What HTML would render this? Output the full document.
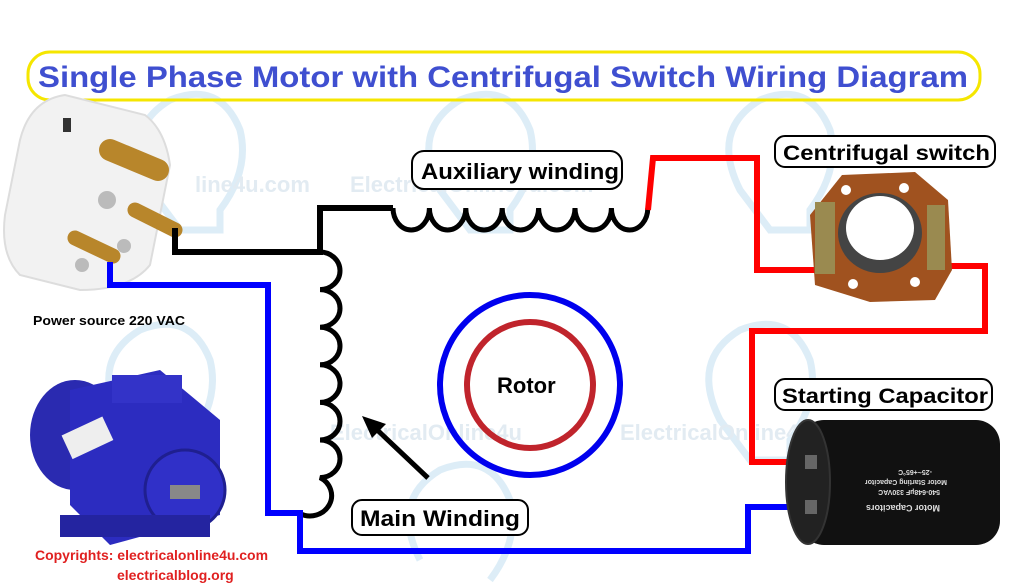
<!DOCTYPE html>
<html><head><meta charset="utf-8"><style>
html,body{margin:0;padding:0;background:#fff;}
svg{display:block;}
text{font-family:"Liberation Sans","DejaVu Sans",sans-serif;font-weight:bold;}
</style></head><body>
<svg width="1024" height="586" viewBox="0 0 1024 586" xmlns="http://www.w3.org/2000/svg">
<rect width="1024" height="586" fill="#fff"/>
<g fill="none" stroke="#d4e8f5" stroke-width="7" opacity="0.8">
<path d="M150 190 q-30 -60 20 -90 q50 -20 70 30 q10 40 -20 80 v20 h-40 z"/>
<path d="M440 190 q-30 -60 20 -90 q50 -20 70 30 q10 40 -20 80 v20 h-40 z"/>
<path d="M740 190 q-30 -60 20 -90 q50 -20 70 30 q10 40 -20 80 v20 h-40 z"/>
<path d="M720 420 q-30 -60 20 -90 q50 -20 70 30 q10 40 -20 80 v20 h-40 z"/>
<path d="M120 420 q-30 -60 20 -90 q50 -20 70 30 q10 40 -20 80 v20 h-40 z"/>
<path d="M420 560 q-30 -60 20 -90 q50 -20 70 30 q10 40 -20 80"/>
</g>
<g fill="#e2ebf2" font-size="22">
<text x="350" y="192" font-weight="normal">ElectricalOnline4u.com</text>
<text x="620" y="440" font-weight="normal">ElectricalOnline4</text>
<text x="330" y="440" font-weight="normal">ElectricalOnline4u</text>
<text x="195" y="192" font-weight="normal">line4u.com</text>
</g>
<rect x="28" y="52" width="952" height="48" rx="22" fill="none" stroke="#f5e600" stroke-width="3"/>
<text x="38" y="87" font-size="30" fill="#3f4fd0" textLength="930" lengthAdjust="spacingAndGlyphs">Single Phase Motor with Centrifugal Switch Wiring Diagram</text>

<g>
<path d="M20 140 q10 -40 45 -45 l80 20 q20 15 25 50 l-20 100 q-20 25 -70 25 l-60 -15 q-20 -20 -15 -60 z" fill="#f2f2f2" stroke="#ddd" stroke-width="2"/>
<rect x="63" y="118" width="8" height="14" fill="#333"/>
<path d="M110 150 l48 20" stroke="#b8862b" stroke-width="22" stroke-linecap="round"/>
<path d="M135 210 l40 20" stroke="#b8862b" stroke-width="15" stroke-linecap="round"/>
<path d="M75 238 l38 18" stroke="#b8862b" stroke-width="15" stroke-linecap="round"/>
<circle cx="107" cy="200" r="9" fill="#bbb"/><circle cx="124" cy="246" r="7" fill="#bbb"/><circle cx="82" cy="265" r="7" fill="#bbb"/>
</g>
<text x="33" y="325" font-size="13" fill="#000" textLength="152" lengthAdjust="spacingAndGlyphs">Power source 220 VAC</text>

<g>
<ellipse cx="75" cy="435" rx="45" ry="55" fill="#2a2ab0"/>
<path d="M70 390 l90 -20 l60 50 l0 95 l-110 30 l-40 -40 z" fill="#2c2cc0"/>
<rect x="112" y="375" width="70" height="28" fill="#3333c8"/>
<rect x="65" y="425" width="45" height="26" fill="#eee" transform="rotate(-25 87 438)"/>
<circle cx="185" cy="490" r="40" fill="#3030c8" stroke="#1f1f90" stroke-width="3"/>
<rect x="170" y="485" width="30" height="14" fill="#888"/>
<rect x="60" y="515" width="150" height="22" fill="#2424a0"/>
</g>
<text x="35" y="560" font-size="14" fill="#e02020" textLength="233" lengthAdjust="spacingAndGlyphs">Copyrights: electricalonline4u.com</text>
<text x="117" y="580" font-size="14" fill="#e02020">electricalblog.org</text>

<g fill="none" stroke-width="6" stroke-linejoin="miter">
<path d="M175 228 V252 H320 V208 H393" stroke="#000"/>
<path d="M393 208 a18.2 22 0 0 0 36.4 0 a18.2 22 0 0 0 36.4 0 a18.2 22 0 0 0 36.4 0 a18.2 22 0 0 0 36.4 0 a18.2 22 0 0 0 36.4 0 a18.2 22 0 0 0 36.4 0 a18.2 22 0 0 0 36.4 0" stroke="#000" stroke-width="5"/>
<path d="M320 252 a20 18.8 0 0 1 0 37.6 a20 18.8 0 0 1 0 37.6 a20 18.8 0 0 1 0 37.6 a20 18.8 0 0 1 0 37.6 a20 18.8 0 0 1 0 37.6 a20 18.8 0 0 1 0 37.6 a20 18.8 0 0 1 -20 36" stroke="#000" stroke-width="5"/>
<path d="M648 210 L653 158 H757 V270 H832" stroke="#f00"/>
<path d="M932 266 H985 V331 H752 V462 H808" stroke="#f00"/>
<path d="M110 262 V285 H268 V513 H300 V551 H748 V507 H808" stroke="#00f"/>
</g>

<circle cx="530" cy="385" r="90" fill="none" stroke="#0000ee" stroke-width="6"/>
<circle cx="530" cy="385" r="63" fill="none" stroke="#c0242c" stroke-width="6"/>
<text x="497" y="393" font-size="22" fill="#000">Rotor</text>

<line x1="428" y1="478" x2="372" y2="425" stroke="#000" stroke-width="5"/>
<path d="M362 416 L386 424 L372 438 Z" fill="#000"/>

<g>
<path d="M842 175 L915 172 L948 200 L952 270 L935 300 L870 302 L815 285 L810 215 Z" fill="#a0521f"/>
<ellipse cx="880" cy="233" rx="42" ry="40" fill="#444"/>
<ellipse cx="880" cy="228" rx="34" ry="32" fill="#fff"/>
<rect x="815" y="202" width="20" height="72" fill="#9a8a50"/>
<rect x="927" y="205" width="18" height="65" fill="#9a8a50"/>
<circle cx="846" cy="190" r="5" fill="#fff"/><circle cx="904" cy="188" r="5" fill="#fff"/>
<circle cx="853" cy="284" r="5" fill="#fff"/><circle cx="915" cy="282" r="5" fill="#fff"/>
</g>
<g>
<rect x="800" y="420" width="200" height="125" rx="24" fill="#111"/>
<ellipse cx="808" cy="482" rx="22" ry="62" fill="#222" stroke="#333" stroke-width="2"/>
<rect x="805" y="455" width="12" height="14" fill="#666"/>
<rect x="805" y="500" width="12" height="14" fill="#666"/>
<g fill="#ddd" font-size="7" font-weight="normal" transform="rotate(180 910 480)">
<text x="880" y="470">540-648µF 330VAC</text>
<text x="873" y="480">Motor Starting Capacitor</text>
<text x="888" y="490">-25~+65°C</text>
<text x="880" y="455" font-size="9">Motor Capacitors</text>
</g>
</g>

<g fill="#fff" stroke="#000" stroke-width="2">
<rect x="412" y="151" width="210" height="38" rx="12"/>
<rect x="775" y="136" width="220" height="31" rx="10"/>
<rect x="775" y="379" width="217" height="31" rx="10"/>
<rect x="352" y="500" width="176" height="35" rx="10"/>
</g>
<text x="421" y="179" font-size="22" fill="#000" textLength="198" lengthAdjust="spacingAndGlyphs">Auxiliary winding</text>
<text x="783" y="160" font-size="21" fill="#000" textLength="207" lengthAdjust="spacingAndGlyphs">Centrifugal switch</text>
<text x="782" y="403" font-size="21" fill="#000" textLength="206" lengthAdjust="spacingAndGlyphs">Starting Capacitor</text>
<text x="360" y="526" font-size="22" fill="#000" textLength="160" lengthAdjust="spacingAndGlyphs">Main Winding</text>
</svg>
</body></html>
